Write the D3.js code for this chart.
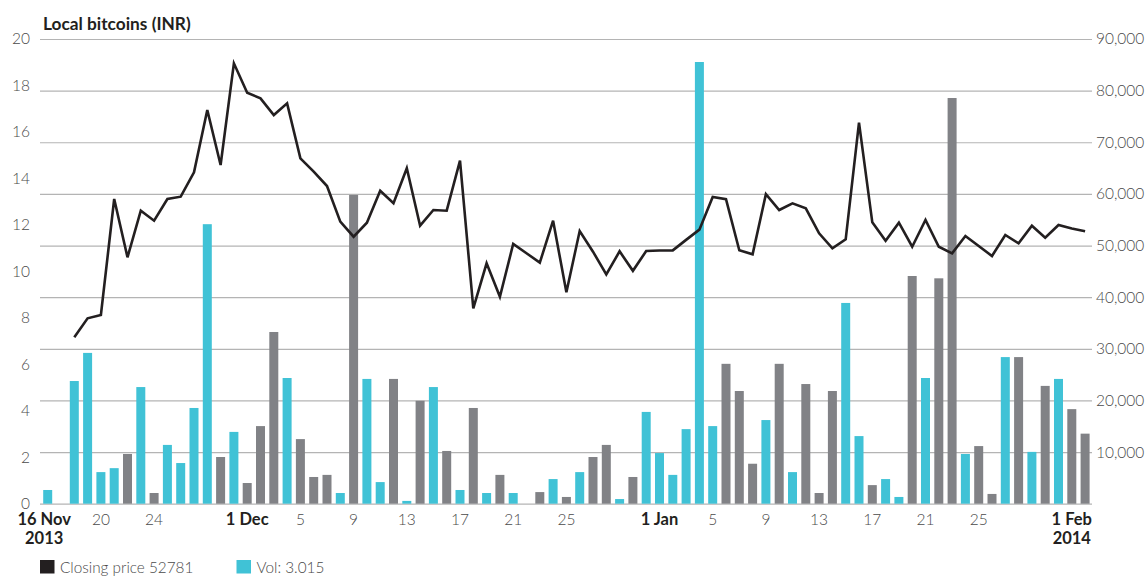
<!DOCTYPE html>
<html>
<head>
<meta charset="utf-8">
<script src="https://cdn.jsdelivr.net/npm/d3@7"></script>
<style>
  html, body { margin: 0; padding: 0; background: #fff; }
  svg { display: block; font-family: Lato, "Open Sans", sans-serif; }
</style>
</head>
<body>
<svg id="chart" width="1145" height="576"></svg>
<script>
// ---- DATA ----
const startDate = "2013-11-16";
// daily volume (left axis, bitcoins), 16 Nov 2013 .. 2 Feb 2014
const volumes = [
  0.59, 0, 5.28, 6.49, 1.36, 1.53, 2.14, 5.02, 0.46, 2.53, 1.75, 4.12, 12.03, 2.01, 3.09,
  0.89, 3.34, 7.39, 5.41, 2.78, 1.15, 1.24, 0.46, 13.29, 5.37, 0.93, 5.37, 0.12, 4.43, 5.02,
  2.27, 0.59, 4.12, 0.46, 1.24, 0.46, 0, 0.5, 1.06, 0.29, 1.36, 2.01, 2.53, 0.2, 1.15, 3.95,
  2.18, 1.24, 3.21, 19.01, 3.34, 6.02, 4.85, 1.72, 3.6, 6.02, 1.36, 5.15, 0.46, 4.85, 8.64,
  2.91, 0.8, 1.06, 0.29, 9.8, 5.41, 9.7, 17.46, 2.14, 2.48, 0.42, 6.31, 6.31, 2.23, 5.07,
  5.37, 4.07, 3.015
];
// bar colour category per day: "c" = cyan, "g" = grey
const barKinds = [
  "c","c","c","c","c","c","g","c","g","c","c","c","c","g","c",
  "g","g","g","c","g","g","g","c","g","c","c","g","c","g","c",
  "g","c","g","c","g","c","c","g","c","g","c","g","g","c","g","c",
  "c","c","c","c","c","g","g","g","c","g","c","g","g","g","c",
  "c","g","c","c","g","c","g","g","c","g","g","c","g","c","g",
  "c","g","g"
];
// daily closing price (right axis, INR); null = no value
const prices = [
  null, null, 32230, 35900, 36550, 59010, 47720, 56750, 54810, 59010, 59460, 64180, 76250, 65600, 85290,
  79600, 78510, 75280, 77540, 66890, 64300, 61530, 54620, 51710, 54420, 60620, 58180, 64960, 53840, 56880,
  56750, 66430, 37840, 46560, 40090, 50300, 48500, 46680, 54810, 40940, 52820, 48810, 44390, 48880, 45100, 48940,
  49050, 49070, 51100, 53080, 59400, 58980, 49070, 48300, 59950, 56880, 58180, 57210, 52370, 49460, 51210,
  73790, 54500, 50940, 54420, 49770, 54940, 49770, 48490, 51840, 49900, 47970, 52040, 50430, 53840, 51520,
  53980, 53300, 52781
];
const leftTicks = [0, 2, 4, 6, 8, 10, 12, 14, 16, 18, 20];
const rightTicks = [0, 10000, 20000, 30000, 40000, 50000, 60000, 70000, 80000, 90000];
const xTickDates = ["2013-11-16","2013-11-20","2013-11-24","2013-12-01","2013-12-05","2013-12-09","2013-12-13",
  "2013-12-17","2013-12-21","2013-12-25","2014-01-01","2014-01-05","2014-01-09","2014-01-13","2014-01-17",
  "2014-01-21","2014-01-25","2014-02-01"];
const xTickLabels = [["16 Nov","2013"],["20"],["24"],["1 Dec"],["5"],["9"],["13"],["17"],["21"],["25"],
  ["1 Jan"],["5"],["9"],["13"],["17"],["21"],["25"],["1 Feb","2014"]];
const xTickBold = [true,false,false,true,false,false,false,false,false,false,true,false,false,false,false,false,false,true];
const title = "Local bitcoins (INR)";
const legendItems = [
  { label: "Closing price 52781", color: "#231f20" },
  { label: "Vol: 3.015", color: "#40c2d6" }
];

// ---- BUILD ----
const parse = d3.utcParse("%Y-%m-%d");
const d0 = parse(startDate);
const days = volumes.map((v, i) => ({
  date: d3.utcDay.offset(d0, i),
  vol: v,
  kind: barKinds[i],
  price: prices[i]
}));

const svg = d3.select("#chart");
const colors = { c: "#40c2d6", g: "#818286" };

const x = d3.scaleUtc()
  .domain([days[0].date, days[days.length - 1].date])
  .range([47.7, 1085.1]);
const yL = d3.scaleLinear().domain([0, 20]).range([503.7, 39]);
const yR = d3.scaleLinear().domain([0, 90000]).range([503.7, 39]);

// gridlines (right axis)
const grid = svg.append("g").attr("transform", "translate(1092,0)")
  .call(d3.axisRight(yR).tickValues(rightTicks).tickSize(-1052).tickFormat(""));
grid.select(".domain").remove();
grid.selectAll(".tick line").attr("stroke", "#b4b4b4").attr("stroke-width", 1.2);

// right tick labels
const rAx = svg.append("g").attr("transform", "translate(1092,0)")
  .call(d3.axisRight(yR).tickValues(rightTicks.filter(t => t > 0)).tickSize(0).tickPadding(4)
    .tickFormat(d3.format(",")));
rAx.select(".domain").remove();
rAx.selectAll("text").attr("fill", "#4a4a4a").style("font-size", "15.5px").style("font-weight", 300)
  .style("font-family", "Lato, sans-serif");

// left tick labels
const lAx = svg.append("g").attr("transform", "translate(30,0)")
  .call(d3.axisLeft(yL).tickValues(leftTicks).tickSize(0).tickPadding(0));
lAx.select(".domain").remove();
lAx.selectAll("text").attr("fill", "#4a4a4a").style("font-size", "15.5px").style("font-weight", 300)
  .style("font-family", "Lato, sans-serif");

// bars
svg.append("g").selectAll("rect").data(days.filter(d => d.vol > 0)).join("rect")
  .attr("x", d => x(d.date) - 4.5)
  .attr("width", 9)
  .attr("y", d => yL(d.vol))
  .attr("height", d => yL(0) - yL(d.vol))
  .attr("fill", d => colors[d.kind]);

// price line
const line = d3.line()
  .defined(d => d.price != null)
  .x(d => x(d.date))
  .y(d => yR(d.price));
svg.append("path").datum(days)
  .attr("d", line)
  .attr("fill", "none")
  .attr("stroke", "#231f20")
  .attr("stroke-width", 2.6)
  .attr("stroke-linejoin", "miter");

// x tick labels
const xt = svg.append("g");
xTickDates.forEach((ds, i) => {
  const px = x(parse(ds)) + (i === 0 ? -3.5 : 0);
  const t = xt.append("text")
    .attr("x", px)
    .attr("y", 524.5)
    .attr("text-anchor", "middle")
    .attr("fill", xTickBold[i] ? "#231f20" : "#4a4a4a")
    .style("font-size", xTickBold[i] ? "16.5px" : "15.5px")
    .style("font-weight", xTickBold[i] ? 700 : 300);
  xTickLabels[i].forEach((s, j) => {
    t.append("tspan").attr("x", px).attr("dy", j === 0 ? 0 : 19.5).text(s);
  });
});

// title
svg.append("text").attr("x", 43).attr("y", 30)
  .attr("fill", "#231f20")
  .style("font-size", "17.3px").style("font-weight", 700)
  .text(title);

// legend
const legX = [40, 236.5];
const leg = svg.append("g");
legendItems.forEach((it, i) => {
  leg.append("rect").attr("x", legX[i]).attr("y", 560).attr("width", 14.5).attr("height", 13.5).attr("fill", it.color);
  leg.append("text").attr("x", legX[i] + 20).attr("y", 573)
    .attr("fill", "#4a4a4a")
    .style("font-size", "15.3px").style("font-weight", 300)
    .text(it.label);
});
</script>
</body>
</html>
